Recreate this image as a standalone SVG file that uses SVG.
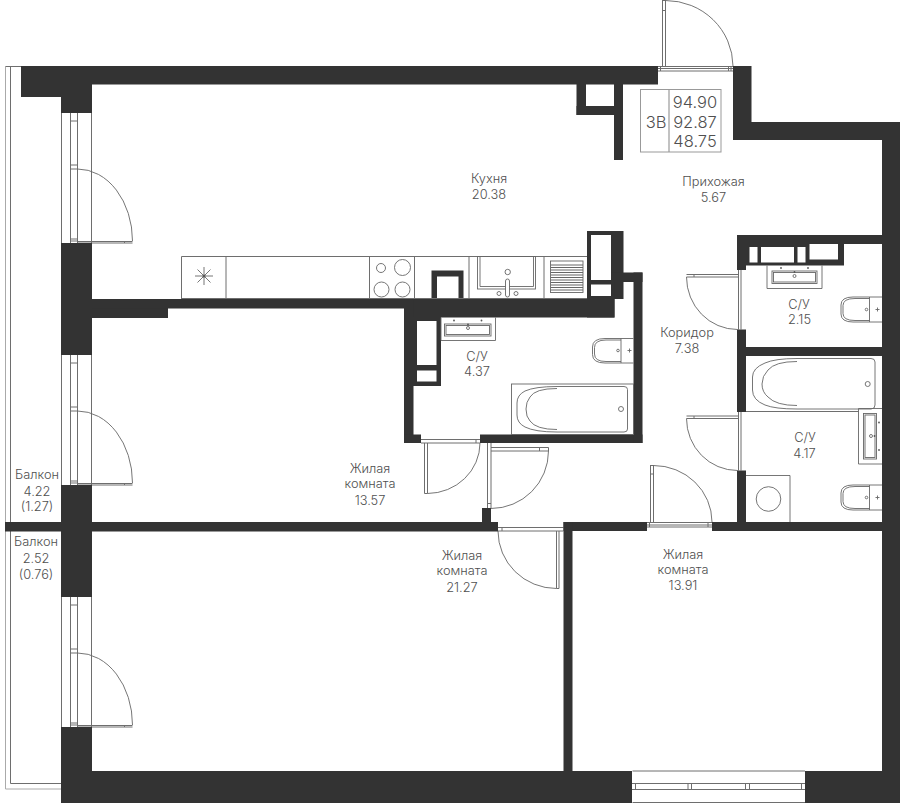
<svg xmlns="http://www.w3.org/2000/svg" width="900" height="803" viewBox="0 0 900 803">
<style>
.w{fill:#333;stroke:none}
.l{fill:none;stroke:#6e6e6e;stroke-width:1}
.a{fill:none;stroke:#666;stroke-width:.9}
.d{fill:#555;stroke:none}
text{font-family:Inter,"Liberation Sans",sans-serif;font-weight:300;font-size:12.800px;fill:#505050;text-anchor:middle}
.b{font-size:16.500px}
</style>
<rect width="900" height="803" fill="#fff"/>
<g id="balcony">
<path fill="none" stroke="#aaa" d="M5.500 66.500V789H61"/>
<path class="l" d="M5.500 66.500H21M10.500 66.500V783.500H61"/>
</g>
<g id="windows-and-doors">
<g id="window-1">
<path class="l" d="M61.500 113V243M91.500 113V243M70.500 113V243M77.500 113V243M70.500 121H77.500M70.500 165H77.500M70.500 169H77.500M70.500 239H77.500M70.500 241H77.500"/>
<path class="l" d="M77.500 241.500H132.500M77.500 243H132.500M124.500 241V243"/>
<path class="a" d="M77.500 169A55 72 0 0 1 132.500 241"/>
</g>
<g id="window-2">
<path class="l" d="M61.500 355V485M91.500 355V485M70.500 355V485M77.500 355V485M70.500 363H77.500M70.500 407H77.500M70.500 411H77.500M70.500 481H77.500M70.500 483H77.500"/>
<path class="l" d="M77.500 483.500H132.500M77.500 485H132.500M124.500 483V485"/>
<path class="a" d="M77.500 411A55 72 0 0 1 132.500 483"/>
</g>
<g id="window-3">
<path class="l" d="M61.500 597V727M91.500 597V727M70.500 597V727M77.500 597V727M70.500 605H77.500M70.500 649H77.500M70.500 653H77.500M70.500 723H77.500M70.500 725H77.500"/>
<path class="l" d="M77.500 725.500H132.500M77.500 727H132.500M124.500 725V727"/>
<path class="a" d="M77.500 653A55 72 0 0 1 132.500 725"/>
</g>
<g id="window-bottom">
<path class="l" d="M632.500 771H805M632.500 802.500H805M632 783.500H805M632 789.500H805M635.500 783.500V789.500M688 783.500V789.500M691.500 783.500V789.500M745.500 783.500V789.500M749.500 783.500V789.500M801.500 783.500V789.500"/>
</g>
<g id="door-entry">
<path class="l" d="M662.500 0V66M665.500 0V66M662.500 .5H665.500M662.500 10.500H665.500M658 66.500H733M658 68.500H733M658 71H733M660.500 66V71M728.500 66V71M731 66V71"/>
<path class="a" d="M665.500 .5A67.500 66 0 0 1 733 66"/>
</g>
<g id="door-su1">
<path class="l" d="M686.500 274.500H738M686.500 277H738M694 274.500V277M738.500 270V329.500M741 270V329.500"/>
<path class="a" d="M686.500 277A51 52.500 0 0 0 737.500 329.500"/>
</g>
<g id="door-su2">
<path class="l" d="M686.500 416H738M686.500 418.500H738M694 416V418.500M738.500 412V470.500M741 412V470.500"/>
<path class="a" d="M686.500 418.500A51 52 0 0 0 737.500 470.500"/>
</g>
<g id="door-room3">
<path class="l" d="M650.500 465V522M653.500 465V522M650.500 465.500H653.500M650.500 474H653.500M647 522.500H712M647 525H712M647 527H712M649.500 522V527M708 522V527"/>
<path class="a" d="M653.500 465.500A58.500 56.500 0 0 1 712 522"/>
</g>
<g id="door-room2">
<path class="l" d="M498 527.500H563.500M498 531H563.500M502 527.500V531M556.500 531V588.500M559 531V588.500M556.500 588.500H559"/>
<path class="a" d="M498 531A58.500 57.500 0 0 0 556.500 588.500"/>
</g>
<g id="door-su3">
<path class="l" d="M421 439.500H480M421 443H480M424.500 443V493.500M427.500 443V493.500M424.500 493.500H427.500M476 439.500V443"/>
<path class="a" d="M480 443A53 50.500 0 0 1 427.500 493.500"/>
</g>
<g id="door-room1">
<path class="l" d="M487.500 443V508M491 443V508M487.500 503.500H491M491 447.500H548.500M491 451H548.500M539.500 447.500V451M548.500 447.500V451"/>
<path class="a" d="M548.500 451A57.500 57.500 0 0 1 491 508.500"/>
</g>
</g>
<g id="walls">
<rect class="w" x="21" y="66" width="637" height="18.500"/>
<rect class="w" x="21" y="84" width="71" height="13"/>
<rect class="w" x="61" y="97" width="31" height="16"/>
<rect class="w" x="61" y="243" width="31" height="112"/>
<rect class="w" x="92" y="299" width="76" height="19"/>
<rect class="w" x="92" y="299" width="500" height="9.500"/>
<rect class="w" x="61" y="485" width="31" height="37"/>
<rect class="w" x="5" y="522" width="493" height="9.500"/>
<rect class="w" x="482" y="508" width="9" height="14"/>
<rect class="w" x="61" y="531" width="31" height="66"/>
<rect class="w" x="61" y="727" width="31" height="44"/>
<rect class="w" x="61" y="771" width="571" height="32"/>
<rect class="w" x="805" y="771" width="95" height="32"/>
<rect class="w" x="882" y="122" width="18" height="681"/>
<rect class="w" x="733" y="66" width="18.500" height="74"/>
<rect class="w" x="733" y="122" width="167" height="18"/>
<rect class="w" x="576.500" y="84" width="9.500" height="31"/>
<rect class="w" x="576.500" y="106" width="46.500" height="9"/>
<rect class="w" x="614" y="84" width="9" height="76"/>
<rect class="w" x="404" y="299" width="210.500" height="18.500"/>
<rect class="w" x="404" y="299" width="9.500" height="144"/>
<rect class="w" x="404" y="317" width="37" height="69"/>
<rect class="w" x="404" y="434.500" width="17" height="8.500"/>
<rect class="w" x="480" y="434.500" width="162.500" height="8.500"/>
<rect class="w" x="633.500" y="272.500" width="9" height="170.500"/>
<rect class="w" x="587" y="231" width="36.500" height="68"/>
<rect class="w" x="587" y="272.500" width="55.500" height="9.500"/>
<rect class="w" x="587" y="282" width="27.500" height="35.500"/>
<rect class="w" x="431.500" y="270.500" width="32" height="28.500"/>
<rect class="w" x="737" y="235" width="163" height="9"/>
<rect class="w" x="737" y="235" width="107" height="30.500"/>
<rect class="w" x="737" y="235" width="9" height="35"/>
<rect class="w" x="737" y="329.500" width="9" height="82.500"/>
<rect class="w" x="737" y="347" width="163" height="9"/>
<rect class="w" x="737" y="470.500" width="9" height="52"/>
<rect class="w" x="712" y="522" width="188" height="9"/>
<rect class="w" x="563.500" y="522" width="83.500" height="9"/>
<rect class="w" x="563.500" y="522" width="9" height="249"/>
<g fill="#fff">
<rect x="437" y="276.500" width="21.500" height="22.500"/>
<rect x="591" y="235" width="20" height="45"/>
<rect x="591" y="284.500" width="20" height="11.500"/>
<rect x="417" y="321" width="19.500" height="44"/>
<rect x="417" y="370.500" width="19.500" height="11"/>
<rect x="749.500" y="247" width="8" height="15.500"/>
<rect x="761" y="247" width="33" height="15.500"/>
<rect x="797.500" y="247" width="8" height="15.500"/>
<rect x="809.500" y="244" width="28.500" height="15.500"/>
</g>
</g>
<g id="kitchen-units">
<path class="l" d="M181.500 299V256.500H587M226 256.500V299M369.500 256.500V299M414.500 256.500V299M469 256.500V299M544 256.500V299M181.500 298.500H587"/>
<g id="hob-fan">
<path class="a" d="M195 276H213M204 267V285M197.500 269.500L210.500 282.500M210.500 269.500L197.500 282.500"/>
<circle class="d" cx="204" cy="276" r="1.500"/>
</g>
<g id="cooktop" class="a">
<circle cx="381" cy="268" r="4.500"/>
<circle cx="402.500" cy="267.500" r="8"/>
<circle cx="381.500" cy="289.500" r="7.500"/>
<circle cx="402.500" cy="289.500" r="7.500"/>
</g>
<g id="kitchen-sink" class="a">
<rect x="477.500" y="256.500" width="58" height="32.500"/>
<path d="M480 257V286.500H533.500V257"/>
<circle cx="507.700" cy="272" r="2.700"/>
<rect x="505.500" y="279" width="4" height="18" rx="2" fill="#fff"/>
<circle cx="499" cy="293.500" r="2"/>
<circle cx="516" cy="293.500" r="2"/>
</g>
<g id="drainer">
<rect class="a" x="550.500" y="261" width="32.500" height="31.500"/>
<path stroke="#666" stroke-width="1" fill="none" d="M551 265H583M551 267.500H583M551 270H583M551 272.500H583M551 275H583M551 277.500H583M551 280H583M551 282.500H583M551 285H583M551 287.500H583M551 290H583"/>
</g>
</g>
<g id="su-437-fixtures">
<g id="sink-437" class="a">
<path d="M441 317.500V340.500H495.500V317.500"/>
<rect x="444.500" y="324" width="46.500" height="12"/>
<rect x="446" y="325.500" width="43.500" height="9"/>
<circle cx="468" cy="328" r="1.500"/>
</g>
<g class="d"><circle cx="454" cy="320.500" r=".9"/><circle cx="481.500" cy="320.500" r=".9"/><circle cx="468" cy="324.500" r=".9"/></g>
<g id="toilet-437" class="a">
<path d="M633.500 338.500H605Q592.500 338.500 592.500 347V354.500Q592.500 363 605 363H633.500M621 338.500V363"/>
<path d="M621 340H606Q594.500 340 594.500 347.500V354Q594.500 361.500 606 361.500H621"/>
<circle cx="618" cy="350.500" r="1.300"/>
<path d="M627.500 350.500H631.500M629.500 348.500V352.500"/>
</g>
<g id="bath-437" class="a">
<rect x="511.500" y="384" width="122" height="50.500"/>
<path d="M624 386.500Q627.500 386.500 627.500 389.500V429Q627.500 432 624 432H557Q535 432 525 427Q517 423 517 415V403Q517 395 525 391Q535 386.500 557 386.500Z"/>
<path d="M557 388.500Q535 388.500 530 397Q526 402 526 409Q526 417 530 421Q536 429.500 557 429.500"/>
<circle cx="621" cy="409" r="2.500"/>
</g>
</g>
<g id="su-215-fixtures">
<g id="sink-215" class="a">
<path d="M767 265.500V288.500H822V265.500"/>
<rect x="772" y="271" width="45" height="12.500"/>
<rect x="773.500" y="272.500" width="42" height="9.500"/>
<circle cx="794.500" cy="276" r="1.500"/>
</g>
<g class="d"><circle cx="781" cy="268" r=".9"/><circle cx="794.500" cy="272" r=".9"/><circle cx="808" cy="268" r=".9"/></g>
<g id="toilet-215" class="a">
<path d="M882 297H853Q841 297 841 305V314Q841 322 853 322H882M869.500 297V322"/>
<path d="M869.500 298.500H855Q843 298.500 843 305.500V313.500Q843 320.500 855 320.500H869.500"/>
<circle cx="866.500" cy="309.500" r="1.300"/>
<path d="M875.500 309.500H879.500M877.500 307.500V311.500"/>
</g>
</g>
<g id="su-417-fixtures">
<g id="bath-417" class="a">
<path d="M871 358.500Q875 358.500 875 362V405Q875 409 871 409H797Q775 409 765 405Q752.500 400 752.500 390V377Q752.500 368 765 363Q775 358.500 797 358.500Z"/>
<path d="M797 361.500Q775 361.500 768 370Q762 376 762 384Q762 392 768 397Q776 405.500 797 405.500"/>
<circle cx="867.700" cy="384" r="2.500"/>
</g>
<path class="l" d="M746 411.500H858.500"/>
<g id="sink-417" class="a">
<path d="M882 408.500H858.500V464H882"/>
<rect x="863.500" y="413.500" width="13" height="45.500"/>
<rect x="865" y="415" width="10" height="42.500"/>
<circle cx="871" cy="436" r="1.500"/>
</g>
<g class="d"><circle cx="879" cy="422.500" r=".9"/><circle cx="874.500" cy="436" r=".9"/><circle cx="879" cy="450" r=".9"/></g>
<g id="washer" class="a">
<path d="M746 475.500H790V522"/>
<circle cx="768.500" cy="499" r="12.300"/>
</g>
<g id="toilet-417" class="a">
<path d="M882 485H853Q841 485 841 493V502Q841 510 853 510H882M869.500 485V510"/>
<path d="M869.500 486.500H855Q843 486.500 843 493.500V501.500Q843 508.500 855 508.500H869.500"/>
<circle cx="866.500" cy="497.500" r="1.300"/>
<path d="M875.500 497.500H879.500M877.500 495.500V499.500"/>
</g>
</g>
<g id="info-box">
<rect x="640.500" y="89.500" width="80.500" height="62.500" fill="none" stroke="#999"/>
<path d="M669 89.500V152" stroke="#999" stroke-width="1.200"/>
<text class="b" x="656" y="127.500">3В</text>
<text class="b" x="695" y="107.500">94.90</text>
<text class="b" x="695" y="127.500">92.87</text>
<text class="b" x="695" y="147">48.75</text>
</g>
<g id="labels">
<text x="489" y="182.500">Кухня</text><text x="489" y="199">20.38</text>
<text x="713.500" y="186">Прихожая</text><text x="713.500" y="202">5.67</text>
<text x="799" y="309">С/У</text><text x="799.500" y="324">2.15</text>
<text x="687" y="337">Коридор</text><text x="687" y="353">7.38</text>
<text x="477" y="361">С/У</text><text x="477" y="376">4.37</text>
<text x="805" y="442">С/У</text><text x="804.500" y="458">4.17</text>
<text x="370" y="473">Жилая</text><text x="370" y="488">комната</text><text x="370" y="505">13.57</text>
<text x="462" y="560">Жилая</text><text x="462" y="575">комната</text><text x="462" y="592">21.27</text>
<text x="683" y="559">Жилая</text><text x="683" y="574">комната</text><text x="683" y="590">13.91</text>
<text x="37" y="479">Балкон</text><text x="37" y="496">4.22</text><text x="37" y="511">(1.27)</text>
<text x="36" y="546">Балкон</text><text x="36" y="563">2.52</text><text x="36" y="579">(0.76)</text>
</g>
</svg>
